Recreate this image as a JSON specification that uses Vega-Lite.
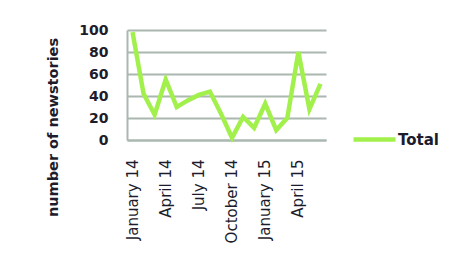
{
  "$schema": "https://vega.github.io/schema/vega-lite/v6.json",
  "width": 199,
  "height": 110,
  "padding": {"left": 127, "top": 30, "right": 133, "bottom": 133},
  "autosize": "none",
  "background": "white",
  "data": {
    "values": [
      {"month": "January 14", "value": 98, "series": "Total"},
      {"month": "February 14", "value": 42, "series": "Total"},
      {"month": "March 14", "value": 23, "series": "Total"},
      {"month": "April 14", "value": 55, "series": "Total"},
      {"month": "May 14", "value": 30, "series": "Total"},
      {"month": "June 14", "value": 36, "series": "Total"},
      {"month": "July 14", "value": 41, "series": "Total"},
      {"month": "August 14", "value": 44, "series": "Total"},
      {"month": "September 14", "value": 24, "series": "Total"},
      {"month": "October 14", "value": 2, "series": "Total"},
      {"month": "November 14", "value": 21, "series": "Total"},
      {"month": "December 14", "value": 11, "series": "Total"},
      {"month": "January 15", "value": 33, "series": "Total"},
      {"month": "February 15", "value": 9, "series": "Total"},
      {"month": "March 15", "value": 20, "series": "Total"},
      {"month": "April 15", "value": 80, "series": "Total"},
      {"month": "May 15", "value": 28, "series": "Total"},
      {"month": "June 15", "value": 51, "series": "Total"}
    ]
  },
  "mark": {"type": "line", "strokeWidth": 4.5, "strokeJoin": "miter"},
  "encoding": {
    "x": {
      "field": "month",
      "type": "nominal",
      "sort": null,
      "scale": {"type": "band", "paddingInner": 0, "paddingOuter": 0},
      "axis": {
        "title": null,
        "values": ["January 14", "April 14", "July 14", "October 14", "January 15", "April 15"],
        "labelAngle": -90,
        "labelFont": "DejaVu Sans",
        "labelFontSize": 15,
        "labelColor": "#1c1c2c",
        "labelPadding": 19,
        "ticks": false,
        "grid": false,
        "domainColor": "#aab8b0",
        "domainWidth": 2
      }
    },
    "y": {
      "field": "value",
      "type": "quantitative",
      "scale": {"domain": [0, 100], "nice": false},
      "axis": {
        "title": "number of newstories",
        "titleFont": "DejaVu Sans",
        "titleFontSize": 14.5,
        "titleFontWeight": "bold",
        "titleColor": "#1c1c2c",
        "titleAngle": -90,
        "titleAlign": "center",
        "titleBaseline": "middle",
        "titleX": -74,
        "titleY": 97,
        "values": [0, 20, 40, 60, 80, 100],
        "labelFont": "DejaVu Sans",
        "labelFontSize": 14,
        "labelFontWeight": "bold",
        "labelColor": "#1c1c2c",
        "labelPadding": 19,
        "ticks": false,
        "grid": true,
        "gridColor": "#aab8b0",
        "gridWidth": 2,
        "gridOpacity": 1,
        "domainColor": "#aab8b0",
        "domainWidth": 2
      }
    },
    "color": {
      "field": "series",
      "type": "nominal",
      "scale": {"range": ["#a2f04c"]},
      "legend": {
        "title": null,
        "orient": "none",
        "legendX": 224,
        "legendY": 86,
        "symbolType": "stroke",
        "symbolSize": 1764,
        "symbolStrokeWidth": 4.5,
        "labelOffset": 0,
        "labelFont": "DejaVu Sans",
        "labelFontSize": 15,
        "labelFontWeight": "bold",
        "labelColor": "#1c1c2c"
      }
    }
  },
  "config": {
    "view": {"stroke": null}
  }
}
